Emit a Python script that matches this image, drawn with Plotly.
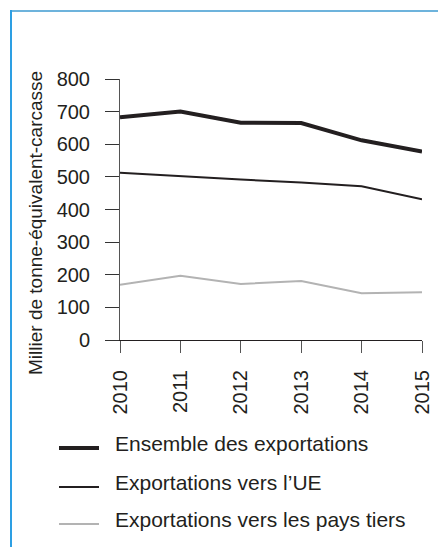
import plotly.graph_objects as go

years = [2010, 2011, 2012, 2013, 2014, 2015]
ensemble = [683, 700, 666, 665, 612, 578]
ue = [513, 502, 492, 483, 471, 431]
tiers = [169, 197, 172, 181, 143, 146]
series_names = ["Ensemble des exportations", "Exportations vers l\u2019UE",
                "Exportations vers les pays tiers"]
y_title = "Millier de tonne-équivalent-carcasse"

OFF = 8  # page offset of the figure
W, H = 446 - OFF, 547 - OFF
L, R, T, B = 120 - OFF, 422 - OFF, 79 - OFF, 340 - OFF
FONT = "Liberation Sans, Arial, sans-serif"
TXT = "#231f20"


def px(x):
    # x given in page pixels
    return (x - OFF - L) / (R - L)


def py(y):
    return (B - (y - OFF)) / (B - T)


styles = [dict(color="#231f20", width=4), dict(color="#231f20", width=2),
          dict(color="#b3b3b3", width=2)]

fig = go.Figure()
for name, vals, st in zip(series_names, [ensemble, ue, tiers], styles):
    fig.add_trace(go.Scatter(x=years, y=vals, mode="lines", name=name,
                             line=st, showlegend=False, hoverinfo="skip"))

shapes = []
annotations = []
# border (top and left)
shapes.append(dict(type="line", xref="paper", yref="paper", x0=px(10), x1=px(460),
                   y0=py(11), y1=py(11), line=dict(color="#6db3dc", width=2)))
shapes.append(dict(type="line", xref="paper", yref="paper", x0=px(11), x1=px(11),
                   y0=py(10), y1=py(570), line=dict(color="#2d9fe3", width=2)))

# custom legend
leg_rows = [448, 487, 524]
leg_text_y = [443, 482, 519]
for name, st, ly, ty in zip(series_names, styles, leg_rows, leg_text_y):
    shapes.append(dict(type="line", xref="paper", yref="paper", x0=px(59), x1=px(99),
                       y0=py(ly), y1=py(ly), line=st))
    annotations.append(dict(text=name, xref="paper", yref="paper", x=px(113), y=py(ty),
                            xanchor="left", yanchor="middle", showarrow=False,
                            font=dict(family=FONT, size=21, color=TXT)))

# y-axis title
annotations.append(dict(text=y_title, xref="paper", yref="paper", x=px(35), y=py(223),
                        xanchor="center", yanchor="middle", textangle=-90, showarrow=False,
                        font=dict(family=FONT, size=19, color=TXT)))

fig.update_layout(
    width=W, height=H,
    margin=dict(l=L, r=W - R, t=T, b=H - B, pad=0),
    paper_bgcolor="white", plot_bgcolor="white",
    font=dict(family=FONT, color=TXT, size=20),
    shapes=shapes, annotations=annotations,
    showlegend=False,
)
fig.update_xaxes(range=[2010, 2015], tickmode="array", tickvals=years,
                 ticktext=[str(y) for y in years], tickangle=-90,
                 showgrid=False, zeroline=False, showline=True, linecolor="#231f20",
                 linewidth=1, ticks="outside", ticklen=12, tickcolor="#555",
                 ticklabelstandoff=9,
                 tickfont=dict(family=FONT, size=20, color=TXT))
fig.update_yaxes(range=[0, 800], dtick=100, showgrid=False, zeroline=False,
                 showline=True, linecolor="#555", linewidth=1, ticks="outside",
                 ticklen=14, tickcolor="#333", ticklabelstandoff=11,
                 tickfont=dict(family=FONT, size=20, color=TXT))

fig.write_html("out.html")
